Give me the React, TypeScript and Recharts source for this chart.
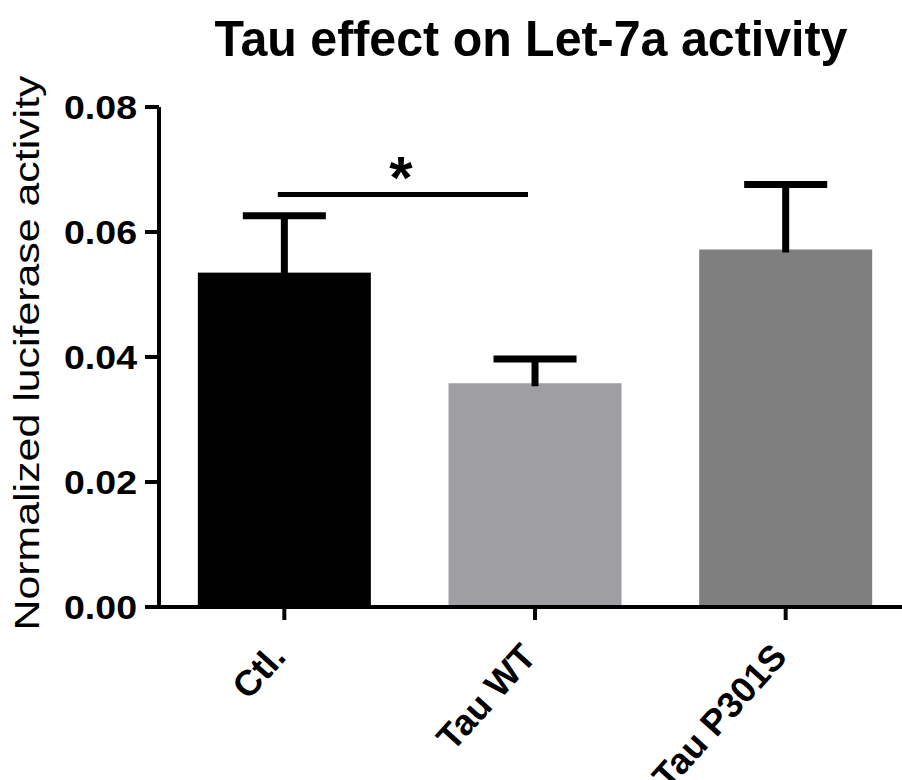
import { Bar, BarChart, Cell, Customized, ReferenceLine, XAxis, YAxis } from "recharts";

const groups = ["Ctl.", "Tau WT", "Tau P301S"];
const means = [0.0535, 0.0358, 0.0572];
const sems = [0.0091, 0.0039, 0.0104];
const yTicks = [0, 0.02, 0.04, 0.06, 0.08];
const sigPair = ["Ctl.", "Tau WT"];
const sigLevel = 0.066;

const COLORS = ["#000000", "#9f9ea3", "#7f7f7f"];
const FONT = "'Liberation Sans', Arial, sans-serif";

const data = groups.map((name, i) => ({ name, value: means[i], sem: sems[i] }));

const BarWithError = (props: any) => {
  const { x, y, width, height, fill, payload } = props;
  const perUnit = height / payload.value;
  const top = y - payload.sem * perUnit;
  const cx = x + width / 2;
  const cap = width * 0.48;
  return (
    <g>
      <rect x={x} y={y} width={width} height={height} fill={fill} />
      <line x1={cx} x2={cx} y1={y + 3} y2={top} stroke="#000" strokeWidth={7} />
      <line x1={cx - cap / 2} x2={cx + cap / 2} y1={top} y2={top} stroke="#000" strokeWidth={7} />
    </g>
  );
};

const YTick = ({ x, y, payload }: any) => (
  <text
    x={x}
    y={y}
    dy="0.36em"
    textAnchor="end"
    fontSize={34}
    fontWeight="bold"
    fontFamily={FONT}
    fill="#000"
    textLength={73}
    lengthAdjust="spacingAndGlyphs"
  >
    {Number(payload.value).toFixed(2)}
  </text>
);

const XTick = ({ x, y, payload }: any) => {
  const ax = x + 3;
  const ay = y + 38;
  return (
    <text
      x={ax}
      y={ay}
      textAnchor="end"
      fontSize={36}
      fontWeight="bold"
      fontFamily={FONT}
      fill="#000"
      transform={`rotate(-48, ${ax}, ${ay})`}
    >
      {payload.value}
    </text>
  );
};

const SigLine = (props: any) => {
  const { x1, x2, y1 } = props;
  const a = x1 - 6.5;
  const b = x2 - 7;
  return (
    <g>
      <line x1={a} x2={b} y1={y1} y2={y1} stroke="#000" strokeWidth={5} />
      <text
        x={(a + b) / 2 - 2}
        y={y1 + 3}
        textAnchor="middle"
        fontSize={60}
        fontWeight="bold"
        fontFamily={FONT}
        fill="#000"
      >
        *
      </text>
    </g>
  );
};

const Labels = () => (
  <g>
    <text
      x={531}
      y={56}
      textAnchor="middle"
      fontSize={50}
      fontWeight="bold"
      fontFamily={FONT}
      fill="#000"
      textLength={633}
      lengthAdjust="spacingAndGlyphs"
    >
      Tau effect on Let-7a activity
    </text>
    <text
      x={39}
      y={353}
      textAnchor="middle"
      fontSize={35}
      fontFamily={FONT}
      fill="#000"
      textLength={555}
      lengthAdjust="spacingAndGlyphs"
      transform="rotate(-90, 39, 353)"
    >
      Normalized luciferase activity
    </text>
  </g>
);

export default function App() {
  return (
    <div
      style={{
        position: "fixed",
        left: 0,
        top: 0,
        width: 902,
        height: 780,
        overflow: "hidden",
        background: "#fff",
      }}
    >
      <BarChart
        width={911}
        height={780}
        data={data}
        margin={{ top: 107, right: 0, left: 0, bottom: 0 }}
        barCategoryGap="15.5%"
      >
        <XAxis
          dataKey="name"
          height={173}
          tick={<XTick />}
          tickSize={13}
          tickMargin={0}
          tickLine={{ stroke: "#000", strokeWidth: 4 }}
          axisLine={{ stroke: "#000", strokeWidth: 4 }}
          interval={0}
        />
        <YAxis
          width={159}
          domain={[0, 0.08]}
          ticks={yTicks}
          tick={<YTick />}
          tickSize={14}
          tickMargin={8}
          tickLine={{ stroke: "#000", strokeWidth: 4 }}
          axisLine={{ stroke: "#000", strokeWidth: 4 }}
          interval={0}
        />
        <Bar dataKey="value" isAnimationActive={false} shape={<BarWithError />}>
          {data.map((_, i) => (
            <Cell key={i} fill={COLORS[i]} />
          ))}
        </Bar>
        <ReferenceLine
          segment={[
            { x: sigPair[0], y: sigLevel },
            { x: sigPair[1], y: sigLevel },
          ]}
          shape={<SigLine />}
        />
        <Customized component={Labels} />
      </BarChart>
    </div>
  );
}
